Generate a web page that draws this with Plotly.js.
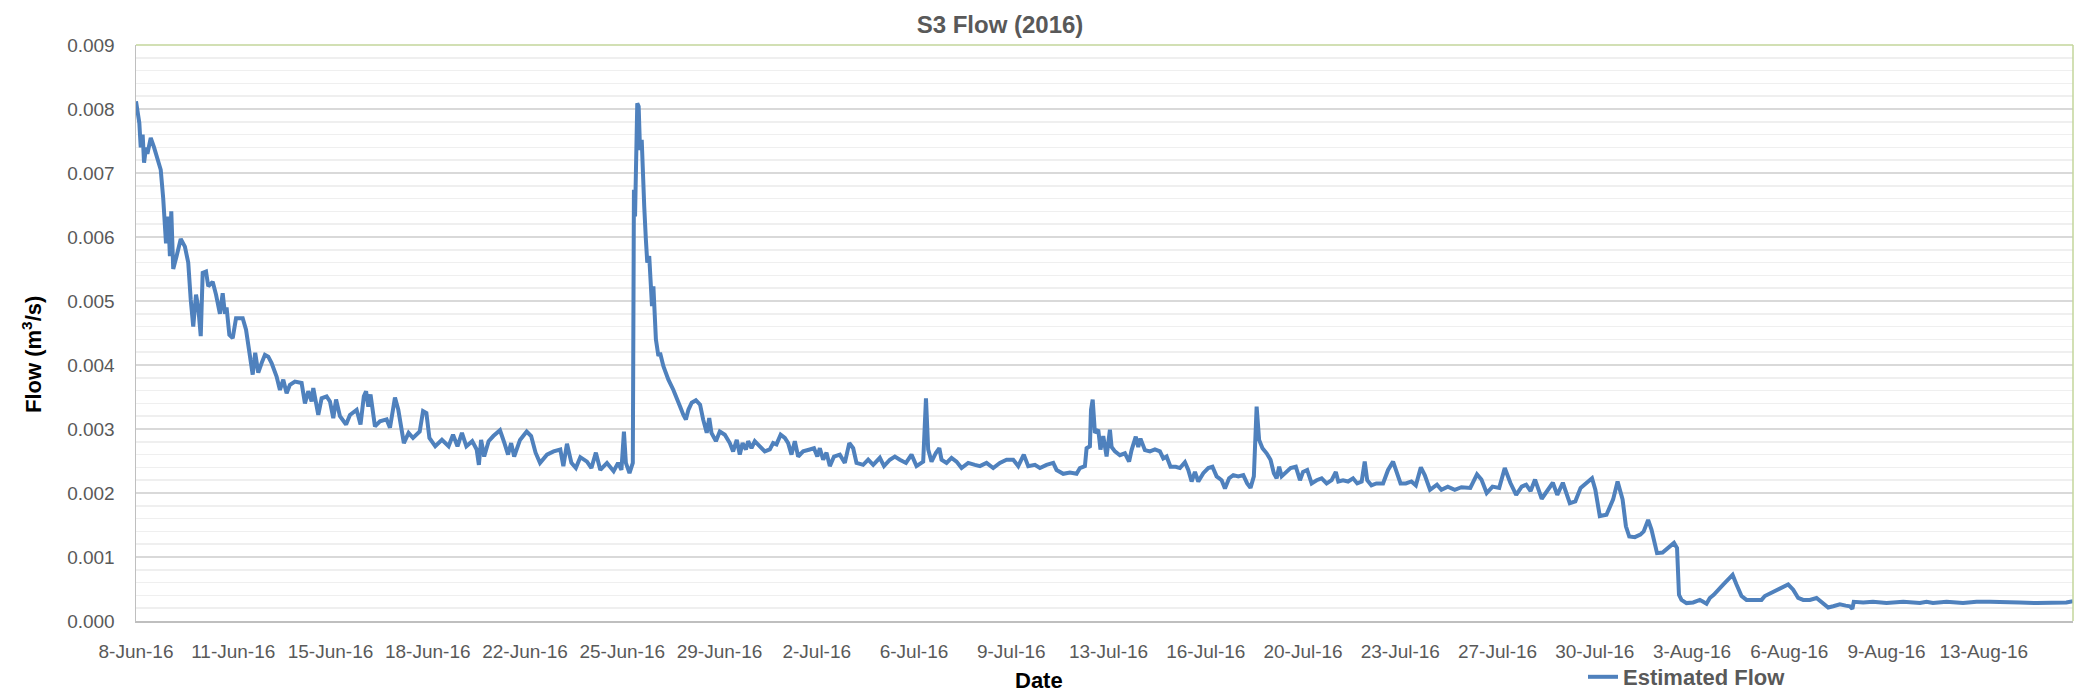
<!DOCTYPE html>
<html><head><meta charset="utf-8">
<script src="https://cdn.plot.ly/plotly-3.0.1.min.js"></script>
<style>html,body{margin:0;padding:0;background:#fff;overflow:hidden}</style>
</head><body>
<div id="chart" style="width:2074px;height:695px"></div>
<script>
// Days elapsed since the first reading (left edge of the axis, 8-Jun-16)
const elapsedDays = [
0.00,0.12,0.17,0.24,0.29,0.36,0.41,0.53,0.65,0.80,0.89,0.98,1.08,1.16,1.22,1.27,1.34,1.46,1.61,1.76,
1.88,1.97,2.06,2.16,2.24,2.33,2.40,2.52,2.60,2.76,2.88,3.02,3.12,3.20,3.26,3.36,3.48,3.60,3.84,3.96,
4.10,4.20,4.29,4.40,4.52,4.64,4.76,4.88,5.06,5.18,5.30,5.42,5.54,5.72,5.96,6.08,6.20,6.32,6.38,6.56,
6.68,6.86,6.98,7.10,7.20,7.34,7.56,7.70,7.94,8.08,8.20,8.28,8.36,8.44,8.60,8.78,9.02,9.14,9.32,9.44,
9.64,9.81,9.97,10.21,10.33,10.45,10.56,10.77,11.01,11.25,11.41,11.57,11.73,11.89,12.10,12.26,12.34,12.42,12.53,12.69,
12.86,13.10,13.26,13.39,13.50,13.61,13.82,14.06,14.22,14.38,14.54,14.79,15.03,15.27,15.38,15.51,15.67,15.83,15.99,16.23,
16.39,16.55,16.71,16.95,17.19,17.35,17.47,17.56,17.63,17.76,17.88,17.92,17.96,17.99,18.04,18.09,18.14,18.20,18.23,18.29,
18.35,18.40,18.47,18.52,18.57,18.62,18.66,18.71,18.80,18.86,18.98,19.16,19.34,19.46,19.58,19.70,19.79,19.88,20.00,20.15,
20.30,20.41,20.54,20.63,20.71,20.87,21.01,21.19,21.37,21.49,21.62,21.73,21.83,21.95,22.03,22.15,22.27,22.45,22.63,22.81,
22.93,23.05,23.20,23.35,23.47,23.59,23.71,23.83,24.01,24.25,24.40,24.52,24.61,24.73,24.85,24.97,25.12,25.33,25.51,25.67,
25.81,25.93,26.17,26.35,26.53,26.77,26.92,27.13,27.31,27.49,27.71,27.91,28.09,28.33,28.43,28.51,28.63,28.79,28.91,28.99,
29.17,29.35,29.53,29.71,29.95,30.19,30.37,30.61,30.85,31.09,31.33,31.57,31.75,31.95,32.11,32.35,32.53,32.77,33.01,33.13,
33.37,33.61,33.85,33.97,34.15,34.21,34.33,34.37,34.43,34.51,34.63,34.71,34.81,34.93,35.05,35.11,35.23,35.41,35.59,35.74,
35.83,35.98,36.07,36.15,36.31,36.49,36.67,36.85,36.97,37.09,37.23,37.42,37.57,37.75,37.87,37.99,38.11,38.23,38.41,38.59,
38.74,38.89,39.07,39.19,39.34,39.49,39.67,39.85,39.99,40.11,40.23,40.33,40.42,40.54,40.69,40.83,40.95,41.05,41.14,41.23,
41.38,41.55,41.74,41.89,42.00,42.15,42.31,42.49,42.67,42.85,43.03,43.18,43.27,43.44,43.62,43.80,43.95,44.11,44.22,44.31,
44.46,44.64,44.88,45.06,45.24,45.36,45.51,45.70,45.90,46.06,46.24,46.38,46.57,46.82,46.98,47.21,47.46,47.70,48.02,48.26,
48.42,48.61,48.82,49.06,49.26,49.46,49.67,49.87,50.03,50.19,50.35,50.59,50.83,50.99,51.15,51.35,51.60,51.80,51.99,52.25,
52.40,52.52,52.68,52.92,53.16,53.32,53.50,53.62,53.74,53.94,54.14,54.26,54.42,54.54,54.74,54.94,55.14,55.35,55.46,55.53,
55.62,55.80,56.04,56.28,56.40,56.52,56.64,56.78,57.12,57.46,57.60,57.78,57.96,58.20,58.50,58.62,58.80,59.10,59.28,59.46,
59.64,59.82,60.00,60.24,60.48,60.66,60.90,61.08,61.32,61.53,61.68,61.77,61.82,62.16,62.51,63.00,63.60,64.20,64.44,64.67,
65.16,65.75,66.24,66.72,67.19,67.79,68.40,68.99,69.47,69.71
];
// Estimated flow, m3/s
const flow = [
0.00812,0.00778,0.0074,0.0076,0.00716,0.0074,0.0073,0.00755,0.0074,0.0072,0.00705,0.0066,0.0059,0.00632,0.0057,0.0064,0.0055,0.0057,0.00597,0.00585,
0.0056,0.00502,0.0046,0.0051,0.0049,0.00445,0.00544,0.00546,0.00523,0.0053,0.0051,0.0048,0.00512,0.0048,0.0049,0.00447,0.00442,0.00473,0.00473,0.00455,
0.00413,0.00385,0.00419,0.00388,0.00403,0.00416,0.00413,0.00403,0.00382,0.00361,0.00377,0.00356,0.00369,0.00374,0.00372,0.0034,0.00359,0.00343,0.00364,0.00322,
0.00348,0.00351,0.00343,0.00317,0.00346,0.0032,0.00307,0.00322,0.0033,0.00307,0.00351,0.00359,0.00335,0.00354,0.00304,0.00312,0.00315,0.00302,0.00349,0.0033,
0.00278,0.00294,0.00286,0.00296,0.00328,0.00325,0.00286,0.00273,0.00283,0.00273,0.00291,0.00273,0.00294,0.00273,0.00281,0.00268,0.00244,0.00283,0.00257,0.00281,
0.00289,0.00298,0.00278,0.0026,0.00278,0.00257,0.00283,0.00296,0.00289,0.00263,0.00247,0.0026,0.00265,0.00268,0.00242,0.00277,0.00247,0.00239,0.00256,0.00249,
0.00239,0.00263,0.00236,0.00247,0.00234,0.00247,0.00236,0.00296,0.00247,0.00231,0.00247,0.00674,0.00632,0.00679,0.00809,0.00804,0.00736,0.00752,0.00705,0.00648,
0.00596,0.0056,0.0057,0.00523,0.00492,0.00523,0.00471,0.0044,0.00414,0.00419,0.00398,0.00377,0.00361,0.00346,0.00335,0.00322,0.00315,0.0033,0.00341,0.00345,
0.00338,0.00315,0.00294,0.00317,0.00294,0.00281,0.00296,0.00291,0.00278,0.00265,0.00283,0.0026,0.00278,0.00268,0.00281,0.0027,0.00281,0.00273,0.00265,0.00268,
0.00278,0.00276,0.00291,0.00286,0.00278,0.0026,0.00281,0.00257,0.00265,0.00268,0.0027,0.00257,0.0027,0.00252,0.00263,0.00242,0.00257,0.0026,0.00247,0.00278,
0.0027,0.00247,0.00244,0.00252,0.00244,0.00255,0.00242,0.00252,0.00257,0.00252,0.00247,0.0026,0.00242,0.00249,0.00348,0.00268,0.00249,0.00263,0.0027,0.00252,
0.00247,0.00255,0.00249,0.00239,0.00247,0.00244,0.00242,0.00247,0.00239,0.00247,0.00252,0.00252,0.00242,0.0026,0.00242,0.00244,0.00239,0.00244,0.00247,0.00236,
0.0023,0.00232,0.0023,0.00239,0.00242,0.0027,0.00273,0.0033,0.00346,0.00294,0.00299,0.00268,0.00289,0.00257,0.00299,0.00272,0.00265,0.00259,0.00262,0.00249,
0.00267,0.00288,0.00272,0.00285,0.00267,0.00265,0.00268,0.00265,0.00254,0.00257,0.00241,0.00241,0.00239,0.00248,0.00236,0.00218,0.00233,0.00218,0.00231,0.00239,
0.00241,0.00226,0.0022,0.00207,0.00223,0.00228,0.00226,0.00228,0.00215,0.00208,0.00226,0.00335,0.00283,0.0027,0.00262,0.00252,0.00231,0.00223,0.00241,0.00226,
0.00232,0.00239,0.00241,0.0022,0.00233,0.00236,0.00215,0.0022,0.00223,0.00215,0.0022,0.00233,0.00218,0.0022,0.00218,0.00223,0.00215,0.00218,0.00249,0.0022,
0.00212,0.00215,0.00215,0.00236,0.00249,0.00233,0.00215,0.00215,0.00218,0.00212,0.0024,0.00228,0.00205,0.00213,0.00205,0.0021,0.00205,0.00209,0.00208,0.00229,
0.00221,0.002,0.0021,0.00208,0.00239,0.00216,0.00197,0.0021,0.00213,0.00203,0.00221,0.00191,0.00205,0.00216,0.00197,0.00216,0.00184,0.00187,0.00208,0.00218,
0.00223,0.00205,0.00164,0.00166,0.0019,0.00218,0.0019,0.00148,0.00132,0.00131,0.00135,0.0014,0.00158,0.00143,0.00106,0.00107,0.00114,0.00122,0.00114,0.00041,
0.00033,0.00028,0.00029,0.00033,0.0003,0.00027,0.00036,0.00041,0.00057,0.00072,0.00057,0.00039,0.00033,0.00033,0.00033,0.00039,0.00043,0.00048,0.00052,0.00057,
0.00049,0.00036,0.00033,0.00033,0.00036,0.0003,0.00021,0.00023,0.00026,0.00024,0.00023,0.00019,0.0003,0.00029,0.0003,0.00028,0.0003,0.00028,0.0003,0.00028,
0.0003,0.00028,0.0003,0.0003,0.00029,0.00029,0.00028,0.00028,0.00029,0.00031
];
const tickDays = [0,3.5,7,10.5,14,17.5,21,24.5,28,31.5,35,38.5,42,45.5,49,52.5,56,59.5,63,66.5];
const tickLabels = ['8-Jun-16','11-Jun-16','15-Jun-16','18-Jun-16','22-Jun-16','25-Jun-16','29-Jun-16','2-Jul-16','6-Jul-16','9-Jul-16',
'13-Jul-16','16-Jul-16','20-Jul-16','23-Jul-16','27-Jul-16','30-Jul-16','3-Aug-16','6-Aug-16','9-Aug-16','13-Aug-16'];
const seriesName = 'Estimated Flow';

const F = 'Liberation Sans, Arial, sans-serif';
const trace = {
  x: elapsedDays, y: flow, type: 'scatter', mode: 'lines', name: seriesName,
  line: {color: '#4f81bd', width: 4}, hoverinfo: 'skip'
};
const layout = {
  width: 2074, height: 695,
  margin: {l: 136, r: 1, t: 45, b: 74, pad: 0, autoexpand: false},
  paper_bgcolor: '#ffffff', plot_bgcolor: '#ffffff',
  title: {text: '<b>S3 Flow (2016)</b>', font: {family: F, size: 24, color: '#595959'},
          x: 1000/2074, xref: 'container', xanchor: 'center', y: 1 - 25/695, yref: 'container', yanchor: 'middle'},
  xaxis: {range: [0, 69.71], tickmode: 'array', tickvals: tickDays, ticktext: tickLabels,
          showgrid: false, zeroline: false, showline: true, linecolor: '#bfbfbf', linewidth: 2,
          ticks: '', tickfont: {family: F, size: 19, color: '#595959'}, ticklabelstandoff: 12, fixedrange: true},
  yaxis: {range: [0, 0.009], tick0: 0, dtick: 0.001, tickformat: '.3f',
          showgrid: true, gridcolor: '#d9d9d9', gridwidth: 1.5,
          minor: {dtick: 0.0002, showgrid: true, gridcolor: '#efefef', gridwidth: 1.5},
          zeroline: false, showline: true, linecolor: '#bfbfbf', linewidth: 1.5,
          ticks: '', tickfont: {family: F, size: 19, color: '#595959'}, ticklabelstandoff: 16, fixedrange: true},
  showlegend: true,
  legend: {orientation: 'h', x: (1583-136)/1937, xanchor: 'left', y: (621-677)/576, yanchor: 'middle',
           font: {family: F, size: 22, color: '#595959', weight: 'bold'}, bgcolor: 'rgba(0,0,0,0)', borderwidth: 0},
  annotations: [
    {text: '<b>Flow (m<sup>3</sup>/s)</b>', xref: 'paper', yref: 'paper', x: (32-136)/1937, y: (621-355)/576,
     xanchor: 'center', yanchor: 'middle', textangle: -90, showarrow: false, font: {family: F, size: 22, color: '#000000'}},
    {text: '<b>Date</b>', xref: 'paper', yref: 'paper', x: (1039-136)/1937, y: (621-680)/576,
     xanchor: 'center', yanchor: 'middle', showarrow: false, font: {family: F, size: 22, color: '#000000'}}
  ],
  shapes: [
    {type: 'line', xref: 'paper', yref: 'paper', x0: 0, x1: 1, y0: 1, y1: 1, line: {color: '#c3d69b', width: 1.5}, layer: 'above'},
    {type: 'line', xref: 'paper', yref: 'paper', x0: 1, x1: 1, y0: 0, y1: 1, line: {color: '#c3d69b', width: 1.5}, layer: 'above'}
  ]
};
Plotly.newPlot('chart', [trace], layout, {displayModeBar: false, staticPlot: true});
</script>
</body></html>
